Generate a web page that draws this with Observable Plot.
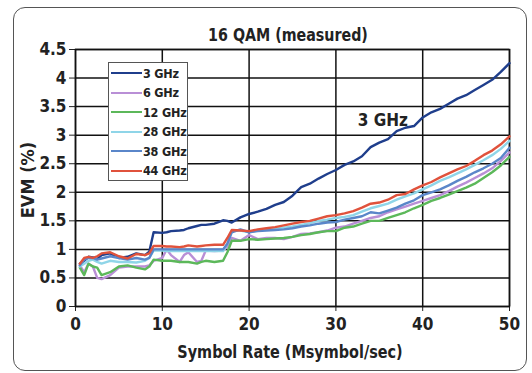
<!DOCTYPE html>
<html><head><meta charset="utf-8">
<script src="https://cdn.jsdelivr.net/npm/d3@7"></script>
<script src="https://cdn.jsdelivr.net/npm/@observablehq/plot@0.6"></script>
<style>
body{margin:0;background:#fff;}
#wrap{position:relative;width:532px;height:373px;overflow:hidden;font-family:"DejaVu Sans Condensed","DejaVu Sans",sans-serif;font-stretch:condensed;font-weight:bold;color:#222;}
#box{position:absolute;left:13px;top:7px;width:512px;height:362px;border:1.5px solid #555;border-radius:12px;}
.lbl{position:absolute;white-space:nowrap;}
#legend{position:absolute;left:108px;top:62px;width:78px;height:117px;background:#fff;border:1px solid #555;}
.row{position:absolute;left:0;height:20px;display:flex;align-items:center;font-size:12.5px;white-space:nowrap;letter-spacing:-0.2px;}
.sw{width:31px;height:0;border-top:2.5px solid;margin-left:2px;margin-right:1px;flex:none;}
</style></head>
<body><div id="wrap"><div id="box"></div></div>
<script>
const title = "16 QAM (measured)";
const xLabel = "Symbol Rate (Msymbol/sec)";
const yLabel = "EVM (%)";
const seriesNames = ["3 GHz","6 GHz","12 GHz","28 GHz","38 GHz","44 GHz"];
const seriesColors = ["#1f3e8c","#b98fd6","#5cb85a","#8fd5e8","#5a86c9","#e0523c"];
const xTicks = [0,10,20,30,40,50];
const yTicks = [0,0.5,1,1.5,2,2.5,3,3.5,4,4.5];
const symbolRate = [0.5,1,1.5,2,2.5,3,4,5,6,7,8,8.5,
  9,10,10.5,11,12,12.5,13,14,14.5,15,16,17,17.5,
  18,19,20,21,22,23,24,25,26,27,28,29,30,31,32,33,34,35,36,37,38,39,40,41,42,43,44,45,46,47,48,49,50];
const evm3 = [0.75,0.8,0.87,0.86,0.83,0.9,0.93,0.85,0.87,0.93,0.9,0.96,
  1.3,1.29,1.3,1.32,1.33,1.34,1.37,1.41,1.43,1.43,1.45,1.51,1.5,
  1.47,1.56,1.62,1.66,1.71,1.78,1.83,1.94,2.09,2.15,2.24,2.32,2.39,2.48,2.54,2.63,2.79,2.87,2.93,3.07,3.13,3.16,3.31,3.4,3.46,3.55,3.64,3.7,3.79,3.88,3.97,4.11,4.26];
const evm6 = [0.72,0.6,0.75,0.7,0.5,0.48,0.55,0.68,0.7,0.7,0.7,0.72,
  0.8,0.85,1.0,0.9,0.78,0.9,0.95,0.78,0.8,0.98,0.97,0.98,1.05,
  1.2,1.15,1.25,1.18,1.2,1.2,1.18,1.22,1.27,1.28,1.3,1.33,1.38,1.4,1.45,1.5,1.55,1.58,1.65,1.7,1.75,1.8,1.85,1.9,1.95,2.02,2.1,2.17,2.25,2.33,2.42,2.55,2.7];
const evm12 = [0.68,0.55,0.75,0.7,0.68,0.55,0.6,0.7,0.72,0.68,0.65,0.7,
  0.82,0.8,0.8,0.8,0.78,0.78,0.78,0.75,0.78,0.8,0.78,0.8,0.95,
  1.15,1.15,1.18,1.17,1.18,1.19,1.2,1.22,1.25,1.27,1.3,1.32,1.32,1.38,1.4,1.45,1.5,1.5,1.55,1.6,1.65,1.72,1.78,1.85,1.9,1.96,2.02,2.08,2.15,2.25,2.35,2.47,2.62];
const evm28 = [0.7,0.75,0.8,0.82,0.78,0.75,0.8,0.78,0.78,0.77,0.8,0.85,
  0.98,0.98,0.97,0.97,0.97,0.97,0.97,0.97,0.97,0.97,0.97,0.97,1.1,
  1.32,1.33,1.3,1.33,1.35,1.36,1.38,1.4,1.43,1.46,1.5,1.52,1.55,1.57,1.6,1.66,1.72,1.76,1.8,1.87,1.93,1.98,2.05,2.12,2.2,2.26,2.33,2.4,2.48,2.56,2.65,2.76,2.9];
const evm38 = [0.72,0.82,0.85,0.85,0.82,0.84,0.88,0.85,0.82,0.85,0.82,0.85,
  1.0,1.0,1.0,1.0,1.0,1.0,1.0,1.0,1.0,1.0,1.0,1.0,1.1,
  1.3,1.35,1.3,1.32,1.33,1.34,1.35,1.37,1.4,1.42,1.45,1.47,1.48,1.52,1.55,1.58,1.65,1.63,1.68,1.73,1.8,1.86,1.95,2.0,2.05,2.12,2.2,2.27,2.35,2.42,2.5,2.6,2.78];
const evm44 = [0.75,0.85,0.87,0.85,0.88,0.93,0.95,0.88,0.84,0.92,0.9,0.93,
  1.06,1.06,1.05,1.05,1.04,1.05,1.07,1.05,1.06,1.07,1.08,1.08,1.2,
  1.34,1.33,1.32,1.35,1.37,1.39,1.42,1.45,1.48,1.5,1.54,1.58,1.6,1.63,1.67,1.73,1.8,1.82,1.87,1.95,1.97,2.05,2.12,2.18,2.26,2.33,2.4,2.46,2.55,2.65,2.73,2.84,2.98];
const annotation = [{x:35.4, y:3.26, text:"3 GHz"}];

const allSeries = [evm3,evm6,evm12,evm28,evm38,evm44];
const data = [];
allSeries.forEach((arr,i)=>arr.forEach((v,j)=>data.push({series:seriesNames[i], x:symbolRate[j], y:v})));

const font = '"DejaVu Sans Condensed","DejaVu Sans",sans-serif';
const chart = Plot.plot({
  width:532, height:373,
  marginLeft:75, marginRight:23, marginTop:49, marginBottom:67,
  style:{fontFamily:font, fontWeight:"bold", fontSize:"17px", color:"#222", background:"transparent", overflow:"visible"},
  x:{domain:[0,50], ticks:xTicks, label:null, tickSize:5, tickPadding:6, tickFormat:d=>String(d)},
  y:{domain:[0,4.5], ticks:yTicks, label:null, tickSize:6, tickPadding:3, tickFormat:d=>String(d)},
  color:{domain:seriesNames, range:seriesColors},
  marks:[
    Plot.ruleX(xTicks,{x:d=>d, stroke:"#111", strokeWidth:1.5}),
    Plot.ruleY(yTicks,{y:d=>d, stroke:"#111", strokeWidth:1.5}),
    Plot.frame({stroke:"#111", strokeWidth:1.5}),
    Plot.line(data,{x:"x", y:"y", z:"series", stroke:"series", strokeWidth:2.4, curve:"linear"}),
    Plot.text(annotation,{x:"x", y:"y", text:"text", fontSize:17, fontWeight:"bold", fill:"#222"})
  ]
});
chart.style.position="absolute"; chart.style.left="0"; chart.style.top="0";
const wrap = document.getElementById("wrap");
wrap.appendChild(chart);

function addLabel(text, css){const d=document.createElement("div");d.className="lbl";d.textContent=text;Object.assign(d.style,css);wrap.appendChild(d);return d;}
addLabel(title,{left:"288px",top:"24px",fontSize:"18px",transform:"translateX(-50%) scaleX(0.88)"});
addLabel(xLabel,{left:"290px",top:"341px",fontSize:"18px",transform:"translateX(-50%) scaleX(0.89)"});
addLabel(yLabel,{left:"27px",top:"180px",fontSize:"18px",transform:"translate(-50%,-50%) rotate(-90deg)"});

const leg = document.createElement("div"); leg.id="legend"; wrap.appendChild(leg);
seriesNames.forEach((n,i)=>{
  const r=document.createElement("div"); r.className="row"; r.style.top=(i*19.5)+"px";
  const s=document.createElement("div"); s.className="sw"; s.style.borderTopColor=seriesColors[i];
  const t=document.createElement("span"); t.textContent=n;
  r.appendChild(s); r.appendChild(t); leg.appendChild(r);
});
</script></body></html>
